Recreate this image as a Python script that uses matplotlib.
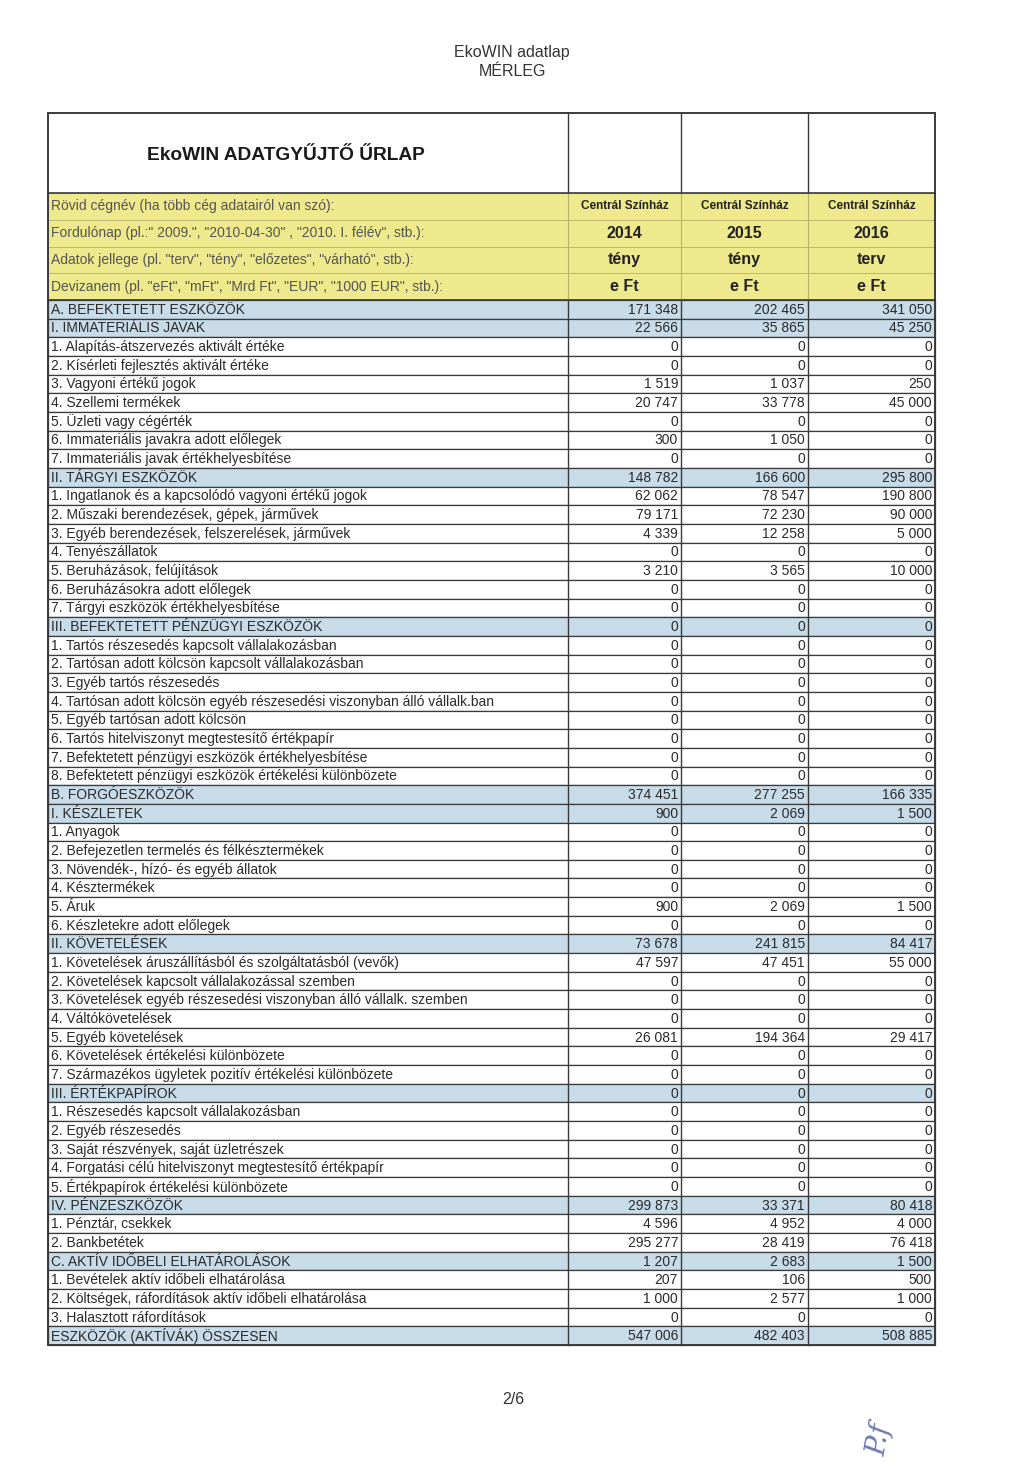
import matplotlib.pyplot as plt
from matplotlib.patches import Rectangle

plt.rcParams['font.family'] = ['Liberation Sans', 'DejaVu Sans']

# header block
header_labels = [
    'Rövid cégnév (ha több cég adatairól van szó):',
    'Fordulónap (pl.:" 2009.", "2010-04-30" , "2010. I. félév", stb.):',
    'Adatok jellege (pl. "terv", "tény", "előzetes", "várható", stb.):',
    'Devizanem (pl. "eFt", "mFt", "Mrd Ft", "EUR", "1000 EUR", stb.):',
]
companies = ['Centrál Színház', 'Centrál Színház', 'Centrál Színház']
years = ['2014', '2015', '2016']
kinds = ['tény', 'tény', 'terv']
currencies = ['e Ft', 'e Ft', 'e Ft']

# balance sheet rows
labels = [
    'A. BEFEKTETETT ESZKÖZÖK',
    'I. IMMATERIÁLIS JAVAK',
    '1. Alapítás-átszervezés aktivált értéke',
    '2. Kísérleti fejlesztés aktivált értéke',
    '3. Vagyoni értékű jogok',
    '4. Szellemi termékek',
    '5. Üzleti vagy cégérték',
    '6. Immateriális javakra adott előlegek',
    '7. Immateriális javak értékhelyesbítése',
    'II. TÁRGYI ESZKÖZÖK',
    '1. Ingatlanok és a kapcsolódó vagyoni értékű jogok',
    '2. Műszaki berendezések, gépek, járművek',
    '3. Egyéb berendezések, felszerelések, járművek',
    '4. Tenyészállatok',
    '5. Beruházások, felújítások',
    '6. Beruházásokra adott előlegek',
    '7. Tárgyi eszközök értékhelyesbítése',
    'III. BEFEKTETETT PÉNZÜGYI ESZKÖZÖK',
    '1. Tartós részesedés kapcsolt vállalakozásban',
    '2. Tartósan adott kölcsön kapcsolt vállalakozásban',
    '3. Egyéb tartós részesedés',
    '4. Tartósan adott kölcsön egyéb részesedési viszonyban álló vállalk.ban',
    '5. Egyéb tartósan adott kölcsön',
    '6. Tartós hitelviszonyt megtestesítő értékpapír',
    '7. Befektetett pénzügyi eszközök értékhelyesbítése',
    '8. Befektetett pénzügyi eszközök értékelési különbözete',
    'B. FORGÓESZKÖZÖK',
    'I. KÉSZLETEK',
    '1. Anyagok',
    '2. Befejezetlen termelés és félkésztermékek',
    '3. Növendék-, hízó- és egyéb állatok',
    '4. Késztermékek',
    '5. Áruk',
    '6. Készletekre adott előlegek',
    'II. KÖVETELÉSEK',
    '1. Követelések áruszállításból és szolgáltatásból (vevők)',
    '2. Követelések kapcsolt vállalakozással szemben',
    '3. Követelések egyéb részesedési viszonyban álló vállalk. szemben',
    '4. Váltókövetelések',
    '5. Egyéb követelések',
    '6. Követelések értékelési különbözete',
    '7. Származékos ügyletek pozitív értékelési különbözete',
    'III. ÉRTÉKPAPÍROK',
    '1. Részesedés kapcsolt vállalakozásban',
    '2. Egyéb részesedés',
    '3. Saját részvények, saját üzletrészek',
    '4. Forgatási célú hitelviszonyt megtestesítő értékpapír',
    '5. Értékpapírok értékelési különbözete',
    'IV. PÉNZESZKÖZÖK',
    '1. Pénztár, csekkek',
    '2. Bankbetétek',
    'C. AKTÍV IDŐBELI ELHATÁROLÁSOK',
    '1. Bevételek aktív időbeli elhatárolása',
    '2. Költségek, ráfordítások aktív időbeli elhatárolása',
    '3. Halasztott ráfordítások',
    'ESZKÖZÖK (AKTÍVÁK) ÖSSZESEN',
]
v2014 = [171348, 22566, 0, 0, 1519, 20747, 0, 300, 0,
         148782, 62062, 79171, 4339, 0, 3210, 0, 0,
         0, 0, 0, 0, 0, 0, 0, 0, 0,
         374451, 900, 0, 0, 0, 0, 900, 0,
         73678, 47597, 0, 0, 0, 26081, 0, 0,
         0, 0, 0, 0, 0, 0,
         299873, 4596, 295277,
         1207, 207, 1000, 0,
         547006]
v2015 = [202465, 35865, 0, 0, 1037, 33778, 0, 1050, 0,
         166600, 78547, 72230, 12258, 0, 3565, 0, 0,
         0, 0, 0, 0, 0, 0, 0, 0, 0,
         277255, 2069, 0, 0, 0, 0, 2069, 0,
         241815, 47451, 0, 0, 0, 194364, 0, 0,
         0, 0, 0, 0, 0, 0,
         33371, 4952, 28419,
         2683, 106, 2577, 0,
         482403]
v2016 = [341050, 45250, 0, 0, 250, 45000, 0, 0, 0,
         295800, 190800, 90000, 5000, 0, 10000, 0, 0,
         0, 0, 0, 0, 0, 0, 0, 0, 0,
         166335, 1500, 0, 0, 0, 0, 1500, 0,
         84417, 55000, 0, 0, 0, 29417, 0, 0,
         0, 0, 0, 0, 0, 0,
         80418, 4000, 76418,
         1500, 500, 1000, 0,
         508885]
section_rows = [0, 1, 9, 17, 26, 27, 34, 42, 48, 51, 55]

YELLOW = '#eee98c'
BLUE = '#c7dbe9'
INK = '#2a2a2a'
LINE = '#3a3a3a'


def fmt(v):
    return f'{v:,}'.replace(',', ' ')


W, H = 1024, 1462
cols = [48, 568, 681, 808, 935]
top, title_bottom, data_top, data_bottom = 113, 193, 300, 1345
yh = (data_top - title_bottom) / len(header_labels)
rh = (data_bottom - data_top) / len(labels)

fig = plt.figure(figsize=(10.24, 14.62), dpi=100)
ax = fig.add_axes([0, 0, 1, 1])
ax.set_xlim(0, W)
ax.set_ylim(H, 0)
ax.axis('off')

# page header
ax.text(W / 2, 52, 'EkoWIN adatlap', ha='center', va='center', fontsize=11.5, color='#333333')
ax.text(W / 2, 72, 'MÉRLEG', ha='center', va='center', fontsize=11.5, color='#333333')

# title block
ax.text(286, 155, 'EkoWIN ADATGYŰJTŐ ŰRLAP', ha='center', va='center',
        fontsize=13.8, fontweight='bold', color='#1a1a1a')

# yellow header rows
for i, lab in enumerate(header_labels):
    y = title_bottom + i * yh
    ax.add_patch(Rectangle((cols[0], y), cols[-1] - cols[0], yh, facecolor=YELLOW,
                           edgecolor='#b8b36a', lw=0.6))
    ax.text(cols[0] + 3, y + yh / 2, lab, ha='left', va='center', fontsize=10, color='#555555')
header_vals = [companies, years, kinds, currencies]
header_sizes = [8.5, 11.5, 11.5, 11.5]
for i, vals in enumerate(header_vals):
    y = title_bottom + i * yh + yh / 2
    for j, v in enumerate(vals):
        ax.text((cols[j + 1] + cols[j + 2]) / 2, y, v, ha='center', va='center',
                fontsize=header_sizes[i], fontweight='bold', color='#222222')

# data rows
for i, lab in enumerate(labels):
    y = data_top + i * rh
    fc = BLUE if i in section_rows else 'white'
    ax.add_patch(Rectangle((cols[0], y), cols[-1] - cols[0], rh, facecolor=fc,
                           edgecolor=LINE, lw=0.9))
    ax.text(cols[0] + 3, y + rh / 2 + 0.5, lab, ha='left', va='center', fontsize=10, color=INK)
    for j, series in enumerate([v2014, v2015, v2016]):
        ax.text(cols[j + 2] - 3, y + rh / 2 + 0.5, fmt(series[i]), ha='right', va='center',
                fontsize=10, color=INK)

# vertical column lines
for x in cols[1:-1]:
    ax.plot([x, x], [top, title_bottom], color=LINE, lw=1.0)
    ax.plot([x, x], [data_top, data_bottom], color=LINE, lw=1.0)
    ax.plot([x, x], [title_bottom, data_top], color='#b8b36a', lw=0.8)

# outer frame
ax.add_patch(Rectangle((cols[0], top), cols[-1] - cols[0], data_bottom - top,
                       facecolor='none', edgecolor=LINE, lw=1.4))
ax.plot([cols[0], cols[-1]], [title_bottom, title_bottom], color=LINE, lw=1.2)
ax.plot([cols[0], cols[-1]], [data_top, data_top], color=LINE, lw=1.2)

# footer
ax.text(W / 2 + 1, 1400, '2/6', ha='center', va='center', fontsize=11.5, color='#333333')
ax.text(880, 1440, 'P.f', ha='center', va='center', fontsize=20, fontstyle='italic',
        color='#6f79b0', family=['DejaVu Serif'], rotation=80)

fig.savefig('out.png', dpi=100)
